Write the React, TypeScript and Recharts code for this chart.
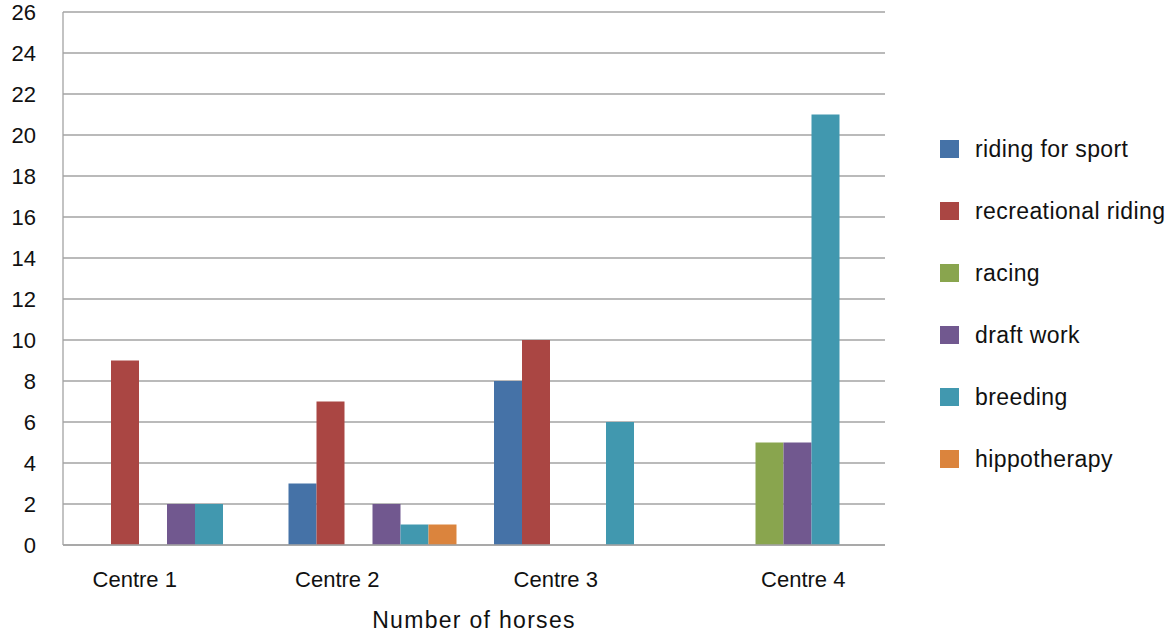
import { Bar, BarChart, CartesianGrid, XAxis, YAxis } from "recharts";

const categories = ["Centre 1", "Centre 2", "Centre 3", "Centre 4"];
const ridingForSport = [0, 3, 8, 0];
const recreationalRiding = [9, 7, 10, 0];
const racing = [0, 0, 0, 5];
const draftWork = [2, 2, 0, 5];
const breeding = [2, 1, 6, 21];
const hippotherapy = [0, 1, 0, 0];
const yTicks = [0, 2, 4, 6, 8, 10, 12, 14, 16, 18, 20, 22, 24, 26];

const series = [
  { key: "sport", name: "riding for sport", values: ridingForSport, color: "#4572A7" },
  { key: "recreational", name: "recreational riding", values: recreationalRiding, color: "#AA4643" },
  { key: "racing", name: "racing", values: racing, color: "#89A54E" },
  { key: "draft", name: "draft work", values: draftWork, color: "#71588F" },
  { key: "breeding", name: "breeding", values: breeding, color: "#4198AF" },
  { key: "hippo", name: "hippotherapy", values: hippotherapy, color: "#DB843D" },
];

const data = categories.map((name, i) => {
  const row: Record<string, string | number> = { name };
  series.forEach((s) => {
    row[s.key] = s.values[i];
  });
  return row;
});

const FONT = '"Liberation Sans", Arial, sans-serif';
const GRID = "#a3a3a3";
// the category labels in the original sit a little off their bar groups
const labelNudge = [-31, -34, -21, 21];

function CentreTick({ x, y, payload, index }: any) {
  return (
    <text
      x={x + (labelNudge[index] ?? 0)}
      y={y + 42}
      textAnchor="middle"
      fill="#111"
      fontSize={22}
      fontFamily={FONT}
    >
      {payload.value}
    </text>
  );
}

function CountTick({ x, y, payload }: any) {
  return (
    <text x={x} y={y + 8} textAnchor="end" fill="#111" fontSize={22} fontFamily={FONT}>
      {payload.value}
    </text>
  );
}

export default function App() {
  return (
    <div
      style={{
        position: "absolute",
        left: 0,
        top: 0,
        width: 1174,
        height: 635,
        background: "#fff",
      }}
    >
      <BarChart
        width={1174}
        height={635}
        data={data}
        margin={{ top: 12, right: 289, left: 0, bottom: 0 }}
        barCategoryGap={20}
        barGap={0}
      >
        <CartesianGrid vertical={false} stroke={GRID} strokeWidth={1.3} />
        <XAxis
          dataKey="name"
          height={90}
          tickLine={false}
          tickSize={0}
          tickMargin={0}
          axisLine={{ stroke: GRID, strokeWidth: 1.3 }}
          tick={<CentreTick />}
          label={{
            value: "Number of horses",
            position: "insideBottom",
            offset: 7,
            fill: "#111",
            fontSize: 23,
            letterSpacing: 1.3,
            fontFamily: FONT,
          }}
        />
        <YAxis
          width={63}
          domain={[0, 26]}
          ticks={yTicks}
          interval={0}
          tickLine={false}
          tickSize={0}
          tickMargin={27}
          axisLine={{ stroke: GRID, strokeWidth: 1.3 }}
          tick={<CountTick />}
        />
        {series.map((s) => (
          <Bar
            key={s.key}
            dataKey={s.key}
            name={s.name}
            fill={s.color}
            isAnimationActive={false}
          />
        ))}
      </BarChart>
      <div
        style={{
          position: "absolute",
          left: 940,
          top: 118,
          fontFamily: FONT,
          fontSize: 23,
          letterSpacing: 0.4,
          color: "#111",
        }}
      >
        {series.map((s) => (
          <div
            key={s.key}
            style={{ display: "flex", alignItems: "center", height: 62 }}
          >
            <span
              style={{
                display: "inline-block",
                width: 19,
                height: 18,
                background: s.color,
                marginRight: 16,
              }}
            />
            <span>{s.name}</span>
          </div>
        ))}
      </div>
    </div>
  );
}
